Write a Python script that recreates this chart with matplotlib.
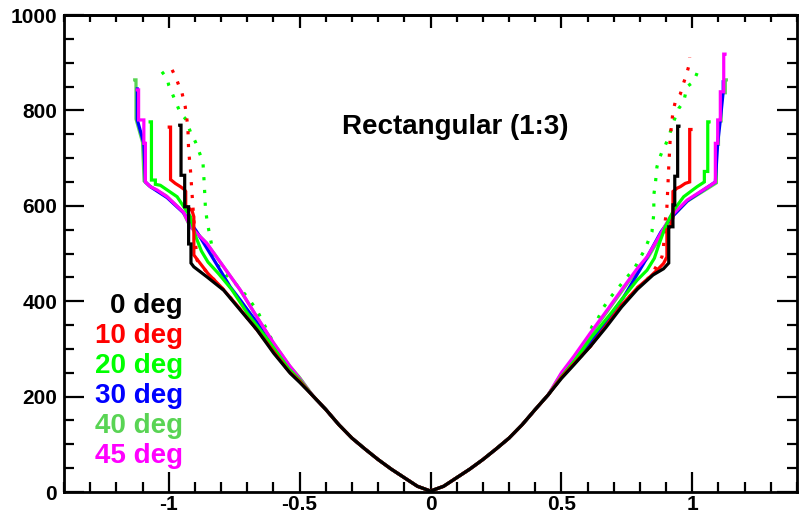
import numpy as np
import matplotlib
matplotlib.use("Agg")
import matplotlib.pyplot as plt
from matplotlib.ticker import MultipleLocator

plt.rcParams['font.family'] = ['Liberation Sans', 'DejaVu Sans']
plt.rcParams['font.weight'] = 'bold'

# shared central part of all curves (|x| <= 0.45)
core_x = [-0.45, -0.4, -0.35, -0.3, -0.25, -0.2, -0.15, -0.1, -0.05, 0.0,
          0.05, 0.1, 0.15, 0.2, 0.25, 0.3, 0.35, 0.4, 0.45]
core_y = [202, 173, 141, 113, 90, 68, 48, 30, 12, 2,
          12, 30, 48, 68, 90, 113, 141, 173, 204]

# wings (left wing from outer top inwards, right wing outwards)
black_lx = [-0.958, -0.953, -0.953, -0.939, -0.939, -0.924, -0.924, -0.915, -0.915,
            -0.904, -0.854, -0.79, -0.726, -0.663, -0.599, -0.536, -0.5]
black_ly = [769, 769, 664, 664, 598, 598, 520, 520, 480, 472, 451, 423, 381, 340, 291, 249, 230]
black_rx = [0.5, 0.55, 0.61, 0.67, 0.73, 0.79, 0.85, 0.89, 0.91, 0.91, 0.926, 0.926,
            0.933, 0.933, 0.944, 0.944, 0.949]
black_ry = [238, 268, 305, 345, 388, 425, 455, 468, 480, 556, 556, 602, 602, 662, 662, 767, 767]

red_lx = [-0.998, -0.993, -0.993, -0.975, -0.955, -0.94, -0.935, -0.935, -0.911, -0.904,
          -0.904, -0.885, -0.85, -0.80, -0.74, -0.67, -0.6, -0.541, -0.5]
red_ly = [765, 765, 655, 647, 640, 634, 630, 600, 590, 577, 497, 483, 458, 430, 392, 345,
          295, 253, 232]
red_rx = [0.5, 0.55, 0.61, 0.67, 0.73, 0.79, 0.84, 0.865, 0.89, 0.903, 0.903, 0.915,
          0.926, 0.926, 0.942, 0.954, 0.973, 0.99, 0.99, 0.995]
red_ry = [240, 270, 305, 348, 392, 428, 452, 465, 479, 493, 550, 556, 575, 630, 637, 640,
          647, 650, 760, 760]

green_lx = [-1.071, -1.066, -1.066, -1.051, -1.051, -1.032, -0.968, -0.917, -0.90,
            -0.875, -0.85, -0.81, -0.76, -0.70, -0.62, -0.541, -0.5]
green_ly = [776, 776, 654, 654, 645, 643, 619, 577, 540, 505, 482, 458, 425, 375, 318,
            258, 235]
green_rx = [0.5, 0.55, 0.62, 0.69, 0.738, 0.789, 0.827, 0.855, 0.87, 0.897, 0.929, 0.967,
            1.018, 1.046, 1.046, 1.059, 1.059, 1.064]
green_ry = [242, 275, 328, 375, 409, 444, 465, 490, 515, 556, 591, 619, 640, 650, 672, 672,
            776, 776]

blue_lx = [-1.12, -1.12, -1.095, -1.089, -1.07, -1.006, -0.943, -0.892, -0.842, -0.80,
           -0.765, -0.726, -0.663, -0.599, -0.536, -0.5]
blue_ly = [845, 780, 731, 650, 640, 617, 585, 545, 500, 462, 430, 402, 355, 300, 256, 235]
blue_rx = [0.5, 0.547, 0.61, 0.674, 0.738, 0.776, 0.814, 0.85, 0.88, 0.92, 0.98, 1.069,
           1.088, 1.097, 1.107, 1.118, 1.118]
blue_ry = [244, 270, 312, 360, 409, 444, 479, 515, 545, 575, 610, 643, 650, 731, 780, 839, 860]

lgreen_lx = [-1.13, -1.125, -1.125, -1.10, -1.094, -1.075, -1.01, -0.946, -0.92, -0.857,
             -0.793, -0.729, -0.666, -0.602, -0.539, -0.5]
lgreen_ly = [864, 864, 782, 733, 652, 642, 621, 588, 558, 523, 474, 425, 369, 314, 265, 240]
lgreen_rx = [0.5, 0.55, 0.612, 0.676, 0.74, 0.79, 0.83, 0.868, 0.918, 0.982, 1.072, 1.092,
             1.092, 1.1, 1.1, 1.11, 1.11, 1.126, 1.126, 1.13]
lgreen_ry = [248, 282, 331, 379, 428, 466, 491, 526, 575, 610, 641, 648, 729, 729, 778, 778,
             837, 837, 864, 864]

magenta_lx = [-1.12, -1.115, -1.115, -1.095, -1.095, -1.089, -1.089, -1.07, -1.044, -1.006,
              -0.943, -0.917, -0.854, -0.79, -0.726, -0.663, -0.599, -0.536, -0.5]
magenta_ly = [843, 843, 780, 780, 731, 731, 650, 640, 633, 619, 586, 556, 521, 472, 423, 367,
              312, 263, 238]
magenta_rx = [0.5, 0.547, 0.61, 0.674, 0.738, 0.789, 0.827, 0.865, 0.916, 0.98, 1.069, 1.088,
              1.088, 1.097, 1.097, 1.107, 1.107, 1.12, 1.12, 1.125]
magenta_ry = [250, 284, 333, 381, 430, 468, 493, 528, 577, 612, 643, 650, 731, 731, 780, 780,
              839, 839, 918, 918]

# dotted curves (no legend entry)
rdot_lx = [-0.987, -0.971, -0.962, -0.949, -0.937, -0.927, -0.924, -0.917, -0.911, -0.904,
           -0.898, -0.892, -0.85, -0.80, -0.74, -0.67, -0.60, -0.541, -0.5]
rdot_ly = [885, 867, 853, 836, 808, 766, 717, 675, 626, 570, 525, 486, 458, 430, 392, 345,
           295, 253, 232]
rdot_rx = [0.5, 0.55, 0.61, 0.67, 0.73, 0.79, 0.84, 0.884, 0.89, 0.893, 0.897, 0.903, 0.906,
           0.91, 0.916, 0.926, 0.935, 0.954, 0.967, 0.977, 0.986, 0.99]
rdot_ry = [240, 270, 305, 348, 392, 428, 452, 493, 514, 542, 570, 598, 633, 682, 745, 797,
           818, 834, 858, 874, 892, 911]

gdot_lx = [-1.026, -1.006, -1.0, -0.987, -0.968, -0.955, -0.937, -0.917, -0.898, -0.879,
           -0.869, -0.864, -0.86, -0.854, -0.847, -0.835, -0.82, -0.78, -0.733, -0.70,
           -0.663, -0.625, -0.593, -0.55, -0.5]
gdot_ly = [881, 867, 853, 836, 811, 794, 783, 755, 734, 706, 689, 644, 598, 570, 549, 515,
           480, 455, 430, 409, 381, 340, 305, 268, 236]
gdot_rx = [0.5, 0.566, 0.598, 0.617, 0.636, 0.662, 0.69, 0.72, 0.78, 0.82, 0.846, 0.853,
           0.853, 0.859, 0.865, 0.875, 0.884, 0.897, 0.91, 0.931, 0.948, 0.967, 0.98, 1.005,
           1.018, 1.028]
gdot_ry = [244, 280, 319, 347, 360, 388, 410, 430, 470, 510, 546, 584, 623, 647, 682, 700,
           713, 727, 745, 780, 804, 818, 850, 860, 878, 893]

labels = ["0 deg", "10 deg", "20 deg", "30 deg", "40 deg", "45 deg"]
label_colors = ["black", "#ff0000", "#00ff00", "#0000ff", "#59d454", "#ff00ff"]
label_y = [390, 327, 264, 201, 138, 75]


def full(lx, ly, rx, ry):
    return np.array(lx + core_x + rx), np.array(ly + core_y + ry)


fig = plt.figure(figsize=(8.02, 5.14), dpi=100)
ax = fig.add_axes([0.0798, 0.0428, 0.914, 0.928])

lw = 2.3
x, y = full(gdot_lx, gdot_ly, gdot_rx, gdot_ry)
ax.plot(x, y, color="#00ff00", lw=lw, linestyle=(0, (1, 3)))
x, y = full(rdot_lx, rdot_ly, rdot_rx, rdot_ry)
ax.plot(x, y, color="#ff0000", lw=lw, linestyle=(0, (1, 3)))

curves = [
    (lgreen_lx, lgreen_ly, lgreen_rx, lgreen_ry, "#59d454"),
    (blue_lx, blue_ly, blue_rx, blue_ry, "#0000ff"),
    (magenta_lx, magenta_ly, magenta_rx, magenta_ry, "#ff00ff"),
    (green_lx, green_ly, green_rx, green_ry, "#00ff00"),
    (red_lx, red_ly, red_rx, red_ry, "#ff0000"),
    (black_lx, black_ly, black_rx, black_ry, "black"),
]
for lx, ly, rx, ry, c in curves:
    x, y = full(lx, ly, rx, ry)
    ax.plot(x, y, color=c, lw=lw, solid_joinstyle='miter')

ax.set_xlim(-1.4, 1.4)
ax.set_ylim(0, 1000)

ax.xaxis.set_minor_locator(MultipleLocator(0.1))
ax.yaxis.set_major_locator(MultipleLocator(200))
ax.yaxis.set_minor_locator(MultipleLocator(50))
ax.set_xticks([-1, -0.5, 0, 0.5, 1])
ax.set_xticklabels(["-1", "-0.5", "0", "0.5", "1"])

ax.tick_params(which='major', direction='in', length=14.5, width=1.6, labelsize=15,
               left=True, right=True, bottom=True, top=False, pad=5)
ax.tick_params(which='minor', direction='in', length=7.2, width=1.6,
               left=True, right=True, bottom=True, top=False)
ax.tick_params(axis='x', pad=2)

top = ax.secondary_xaxis('top')
top.xaxis.set_major_locator(MultipleLocator(0.5))
top.xaxis.set_minor_locator(MultipleLocator(0.1))
top.tick_params(which='major', direction='in', length=9.5, width=1.6, labeltop=False)
top.tick_params(which='minor', direction='in', length=5, width=1.6)
top.spines['top'].set_linewidth(2)

for sp in ax.spines.values():
    sp.set_linewidth(2)

for lab in ax.get_xticklabels() + ax.get_yticklabels():
    lab.set_fontweight('bold')

ax.text(0.094, 765, "Rectangular (1:3)", ha='center', va='center', fontsize=20,
        fontweight='bold')

for t, c, ly in zip(labels, label_colors, label_y):
    ax.text(-0.945, ly, t, ha='right', va='center', fontsize=20, fontweight='bold', color=c)

fig.savefig("out.png", dpi=100)
